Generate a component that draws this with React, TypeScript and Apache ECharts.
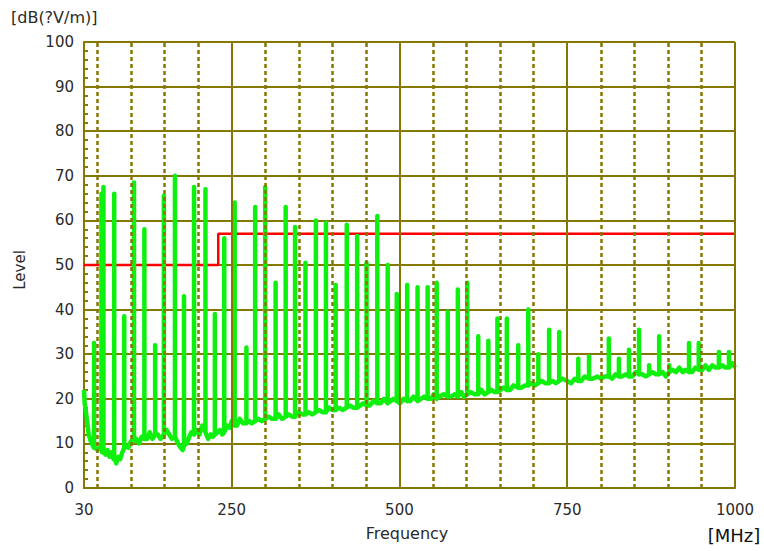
import React, { useEffect, useRef } from "react";
import * as echarts from "echarts";

// Axis ticks
const xLabelValues = [30, 250, 500, 750, 1000];
const minorGridFreqs = [50, 100, 150, 200, 300, 350, 400, 450, 550, 600, 650, 700, 800, 850, 900, 950];
const majorGridFreqs = [250, 500, 750, 1000];

// Limit line (red)
const limitFreq = [30, 230, 230, 1000];
const limitLevel = [50, 50, 57, 57];

// Noise floor of the trace
const floorFreq = [
  30, 31, 33, 35, 37, 40, 43, 47, 50, 53, 57, 62, 65, 68, 71, 74, 78, 81, 84, 87, 92, 96, 100,
  108, 112, 116, 124, 128, 132, 140, 144, 153, 157, 161, 170, 174, 177, 183, 187, 190, 198, 202,
  206, 215, 219, 222, 229, 233, 236, 243, 247, 250, 258, 262, 267, 276, 280, 290, 295, 305, 310,
  320, 325, 335, 340, 350, 355, 365, 370, 380, 385, 395, 400, 410, 415, 426, 431, 442, 446, 456,
  461, 472, 477, 487, 491, 501, 506, 516, 521, 532, 537, 547, 551, 560, 566, 577, 582, 592, 596,
  606, 612, 622, 627, 637, 642, 651, 655, 665, 670, 682, 687, 697, 702, 712, 717, 728, 733, 743,
  750, 756, 761, 771, 776, 788, 795, 800, 806, 817, 822, 832, 837, 847, 852, 862, 867, 877, 882,
  892, 897, 907, 912, 917, 922, 926, 936, 941, 951, 956, 961, 966, 971, 981, 986, 996, 1000,
];
const floorLevel = [
  22, 19, 17, 14.5, 12, 10.5, 9.5, 9, 8.5, 9, 8, 7.5, 8.5, 7, 8, 6.5, 5.5, 7, 6.5, 8, 9.5, 9, 10.5,
  11, 10, 11.5, 11, 12.5, 11, 12, 11, 13, 12, 11, 10, 9, 8.5, 10, 11.5, 12.5, 13, 12,
  14, 11, 12, 11.5, 12.5, 13, 12, 14, 13.5, 15, 14, 15.5, 14.5, 15, 14.5, 15.5, 15, 16, 15.5,
  16.5, 15.5, 16.5, 16, 17, 16.5, 17, 16.5, 17.5, 17, 18, 17.5, 18, 17.5, 18.5, 18, 18.5, 19, 18.5,
  19.5, 19, 20, 19.5, 20, 19, 20, 19.5, 20.5, 20, 20.5, 20, 21, 20.5, 21, 20.5, 21, 21.5, 20.5,
  21.5, 21, 22, 21, 22, 21.5, 22, 22.5, 22, 23, 22.5, 23, 23.5, 23, 24, 23.5, 24, 23.5, 24.5,
  24, 23.5, 24.5, 24, 25, 24.5, 25, 24.5, 25, 24.5, 25.5, 25, 25.5, 25, 26, 25.5, 25, 26, 25.5,
  26, 25, 26.5, 26, 27, 26, 26.5, 26, 27, 26.5, 27.5, 26.5, 27.5, 27, 27.5, 27, 28, 27,
];

// Harmonic spikes: frequency, peak level, level at the base
const spikeFreq = [
  45, 56, 59, 75, 90, 104.5, 120, 136, 149, 165.5, 179, 194, 211, 225, 239, 254.5, 272,
  285, 300, 315.5, 330.5, 344.5, 360, 375.5, 390.5, 405, 421.5, 437, 451, 467, 482.5, 496,
  511.5, 527, 542, 555.5, 572, 587, 601, 617.5, 632.5, 646, 660, 677, 692, 707, 723, 738,
  766.5, 782.5, 812, 827, 842, 857, 872, 887, 902, 931.5, 946, 976, 991,
];
const spikePeak = [
  32.5, 66, 67.5, 66, 38.5, 68.5, 58, 32, 65.5, 70, 43, 67.5, 67, 39, 56, 64, 31.5,
  63, 67.5, 46, 63, 58.5, 50.5, 60, 59.5, 45.5, 59, 56.5, 50.5, 61, 50, 43.5,
  45.5, 45, 45, 46, 39.5, 44.5, 46, 34, 33, 38, 38, 32, 40, 30, 35.5, 35,
  29, 29.5, 33.5, 29, 31, 35.5, 27.5, 34, 27.5, 32.5, 32.5, 30.5, 30.5,
];
const spikeBase = [
  9, 8.5, 8, 7, 9, 10.5, 11, 12, 12, 11.5, 9.5, 12, 12.5, 12, 12.5, 14, 14.5,
  15, 15.5, 15.5, 16, 16, 16.5, 17, 17, 17.5, 18, 18, 18.5, 19, 19, 19.5,
  19.5, 19.5, 20, 20, 20.5, 20.5, 21, 21, 21.5, 21.5, 22, 22.5, 23, 23.5, 23.5, 24,
  24, 24.5, 25, 25, 25, 25.5, 25.5, 25.5, 26, 26, 26.5, 27, 27,
];

const OLIVE = "#847800";
const TEXT = "#2a2a2a";
const FONT = "DejaVu Sans";

export default function App() {
  const ref = useRef<HTMLDivElement>(null);

  useEffect(() => {
    if (!ref.current) return;
    const chart = echarts.init(ref.current, undefined, { renderer: "svg" });

    const pts: [number, number][] = floorFreq.map((f, i) => [f, floorLevel[i]]);
    spikeFreq.forEach((f, i) => {
      pts.push([f, spikeBase[i]]);
      pts.push([f, spikePeak[i]]);
      pts.push([f, spikeBase[i]]);
    });
    const trace = pts
      .map((p, i) => ({ p, i }))
      .sort((a, b) => a.p[0] - b.p[0] || a.i - b.i)
      .map((o) => o.p);

    const limit = limitFreq.map((f, i) => [f, limitLevel[i]]);

    const option: any = {
      animation: false,
      backgroundColor: "#ffffff",
      grid: { left: 84, top: 42, width: 651, height: 446 },
      xAxis: {
        type: "value",
        min: 30,
        max: 1000,
        interval: 10,
        axisLine: { show: true, lineStyle: { color: OLIVE, width: 2 } },
        axisTick: { show: false },
        splitLine: { show: false },
        axisLabel: {
          margin: 14,
          color: TEXT,
          fontFamily: FONT,
          fontSize: 15,
          formatter: (v: number) => (xLabelValues.indexOf(v) >= 0 ? String(v) : ""),
        },
      },
      yAxis: {
        type: "value",
        min: 0,
        max: 100,
        interval: 10,
        axisLine: { show: true, lineStyle: { color: OLIVE, width: 2 } },
        axisTick: { show: false, inside: true },
        minorTick: { show: true, splitNumber: 5, length: 4, lineStyle: { color: OLIVE, width: 2 } },
        splitLine: { show: true, lineStyle: { color: OLIVE, width: 2, type: "solid" } },
        axisLabel: {
          margin: 10,
          color: TEXT,
          fontFamily: FONT,
          fontSize: 15,
          padding: [0, 0, 6, 0],
        },
      },
      series: [
        {
          type: "line",
          data: [],
          z: 1,
          silent: true,
          markLine: {
            silent: true,
            symbol: "none",
            label: { show: false },
            animation: false,
            data: [
              ...minorGridFreqs.map((f) => ({
                xAxis: f,
                lineStyle: { color: OLIVE, width: 2.5, type: [4, 3] },
              })),
              ...majorGridFreqs.map((f) => ({
                xAxis: f,
                lineStyle: { color: OLIVE, width: 2, type: "solid" },
              })),
            ],
          },
        },
        {
          type: "line",
          data: limit,
          z: 2,
          symbol: "none",
          silent: true,
          lineStyle: { color: "#ff0000", width: 2.5 },
        },
        {
          type: "line",
          data: trace,
          z: 3,
          symbol: "none",
          silent: true,
          lineStyle: { color: "#0ef00e", width: 4.5, join: "round" },
        },
      ],
      graphic: [
        {
          type: "text",
          left: 11,
          top: 9,
          style: { text: "[dB(?V/m)]", fill: TEXT, font: `16px "${FONT}"` },
        },
        {
          type: "text",
          x: 20,
          y: 270,
          rotation: Math.PI / 2,
          style: {
            text: "Level",
            fill: TEXT,
            font: `15px "${FONT}"`,
            align: "center",
            verticalAlign: "middle",
          },
        },
        {
          type: "text",
          x: 407,
          y: 533,
          style: {
            text: "Frequency",
            fill: TEXT,
            font: `16px "${FONT}"`,
            align: "center",
            verticalAlign: "middle",
          },
        },
        {
          type: "text",
          x: 734,
          y: 535,
          style: {
            text: "[MHz]",
            fill: "#111",
            font: `18px "${FONT}"`,
            align: "center",
            verticalAlign: "middle",
          },
        },
      ],
    };

    chart.setOption(option);
    return () => chart.dispose();
  }, []);

  return (
    <div
      ref={ref}
      style={{ position: "absolute", left: 0, top: 0, width: 764, height: 551 }}
    />
  );
}
